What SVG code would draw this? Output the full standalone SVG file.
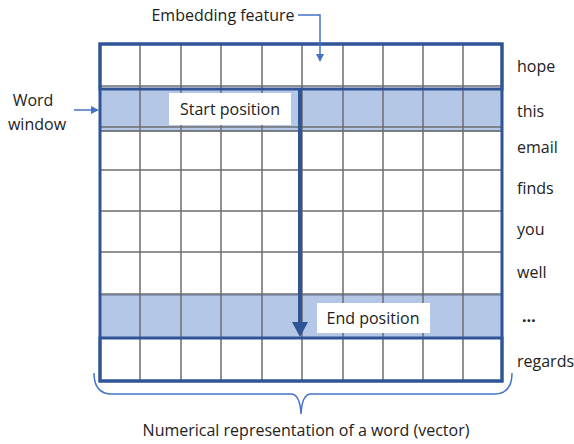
<svg xmlns="http://www.w3.org/2000/svg" width="574" height="444" viewBox="0 0 574 444">
<style>
.t{font-family:"Open Sans","Liberation Sans",Arial,sans-serif;font-size:16px;fill:#222}
.g{stroke:#6e6e6e;stroke-width:1.5;fill:none}
.thick{stroke:#2f5597;stroke-width:3;fill:none}
.band{fill:#b4c7e7;stroke:#5a74a8;stroke-width:1}
.conn{stroke:#4472c4;stroke-width:1.5;fill:none}
</style>
<rect width="574" height="444" fill="#fff"/>
<g id="grid">
<rect class="band" x="100" y="89" width="402" height="42"/>
<rect class="band" x="100" y="295" width="402" height="43"/>
<path class="g" d="M140,44V381M181,44V381M221,44V381M262,44V381M302,44V381M343,44V381M383,44V381M423,44V381M463,44V381"/>
<path class="g" d="M100,86H502M100,127H502M100,131H502M100,170H502M100,211H502M100,252H502M100,294H502"/>
<rect class="thick" x="100" y="44" width="402" height="337"/>
<rect class="thick" x="100" y="44" width="402" height="45"/>
<rect class="thick" x="100" y="338" width="402" height="43"/>
</g>
<g id="connectors">
<line x1="300" y1="89" x2="300" y2="324" stroke="#2f5597" stroke-width="4"/>
<polygon points="292,322 308,322 300,337" fill="#2f5597"/>
<path class="conn" d="M298,15H320V54" />
<polygon points="316,54 324,54 320,62" fill="#4472c4"/>
<line class="conn" x1="74" y1="110" x2="91" y2="110"/>
<polygon points="91,106 99,110 91,114" fill="#4472c4"/>
<path class="conn" d="M94,373 Q94,394 112,394 H291 Q300,394 301,414 Q302,394 311,394 H494 Q512,394 512,373"/>
</g>
<g id="start">
<rect x="169" y="93" width="122" height="32" fill="#fff"/>
<text class="t" x="230" y="115" text-anchor="middle">Start position</text>
</g>
<g id="end">
<rect x="317" y="303" width="113" height="30" fill="#fff"/>
<text class="t" x="373" y="324" text-anchor="middle">End position</text>
</g>
<g id="embedding"><text class="t" x="223" y="21" text-anchor="middle">Embedding feature</text></g>
<g id="window">
<text class="t" x="33" y="106" text-anchor="middle">Word</text>
<text class="t" x="37" y="130" text-anchor="middle">window</text>
</g>
<g id="words">
<text class="t" x="517" y="72">hope</text>
<text class="t" x="517" y="117">this</text>
<text class="t" x="517" y="153">email</text>
<text class="t" x="517" y="194">finds</text>
<text class="t" x="517" y="235">you</text>
<text class="t" x="517" y="278">well</text>
<text class="t" x="522" y="322" style="font-weight:bold">…</text>
<text class="t" x="517" y="367">regards</text>
</g>
<g id="caption"><text class="t" x="306" y="436" text-anchor="middle">Numerical representation of a word (vector)</text></g>
</svg>
